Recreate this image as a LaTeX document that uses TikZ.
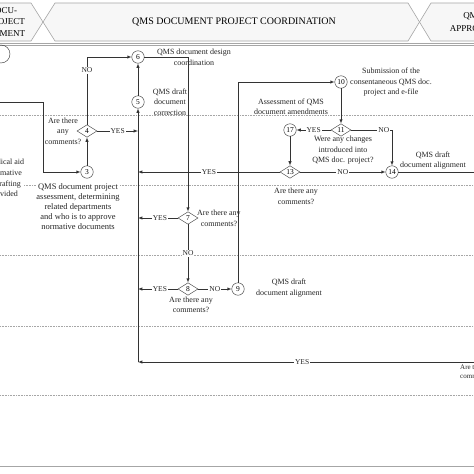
\documentclass[tikz,border=0pt]{standalone}
\usepackage{fontspec}
\setmainfont{Liberation Serif}
\usetikzlibrary{arrows, calc, shapes.geometric}

\begin{document}
\begin{tikzpicture}[x=1pt, y=-1pt, >=latex,
	stepnum/.style={circle, draw=black!80, minimum size=12.5pt, inner sep=0pt, font=\fontsize{7.5}{8}\selectfont},
	decide/.style={diamond, draw=black!80, minimum width=20pt, minimum height=12.5pt, inner sep=0pt, font=\fontsize{7.5}{8}\selectfont},
	note/.style={align=center, inner sep=0pt, text=black!85, font=\fontsize{8}{10.5}\selectfont},
	answer/.style={fill=white, inner sep=1pt, text=black!85, font=\fontsize{7.5}{8}\selectfont},
	flow/.style={draw=black!80, line width=0.5pt},
	lane/.style={draw=gray!70, densely dotted, line width=0.6pt},
	header/.style={draw=gray!70, fill=gray!6, line width=0.6pt}]
	\useasboundingbox (0,0) rectangle (474,474);
	\clip (0,0) rectangle (474,474);
	\fill [white] (0,0) rectangle (474,474);
	\draw [header] (-5,3) -- (31,3) -- (43,22) -- (31,41) -- (-5,41);
	\draw [header] (55,3) -- (408,3) -- (419.5,22) -- (408,41) -- (55,41) -- (43,22) -- cycle;
	\draw [header] (431,3) -- (480,3) -- (480,41) -- (431,41) -- (419.5,22) -- cycle;
	\path (-8,22) node [align=center, font=\fontsize{9}{11.5}\selectfont] (hA) {QMS DOCU-\\MENT PROJECT\\DEVELOPMENT};
	\path (234,22) node [font=\fontsize{10}{12}\selectfont] (hB) {QMS DOCUMENT PROJECT COORDINATION};
	\path (473,22) node [align=center, font=\fontsize{9}{13}\selectfont] (hC) {QMS\\APPROVAL};
	\draw [gray!70, line width=0.6pt] (0,43.5) -- (474,43.5);
	\draw [gray!70, line width=0.6pt] (0,45.5) -- (474,45.5);
	\draw [lane] (0,115) -- (474,115);
	\draw [lane] (0,185) -- (474,185);
	\draw [lane] (0,255) -- (474,255);
	\draw [lane] (0,326) -- (474,326);
	\draw [lane] (0,395) -- (474,395);
	\draw [gray!70, line width=0.7pt] (0,466) -- (474,466);
	\coordinate (p3) at (87,172);
	\coordinate (p4) at (87,131);
	\coordinate (p5) at (138,102);
	\coordinate (p6) at (138,57);
	\coordinate (p7) at (188,218);
	\coordinate (p8) at (188,289);
	\coordinate (p9) at (238,289);
	\coordinate (p10) at (341,82);
	\coordinate (p11) at (341,130);
	\coordinate (p17) at (290,130);
	\coordinate (p13) at (290,172);
	\coordinate (p14) at (392,172);
	\path (1,54) node [circle, draw=black!80, minimum size=18pt] (st) {};
	\path (p3) node [stepnum] (n3) {3};
	\path (p4) node [decide] (n4) {4};
	\path (p5) node [stepnum] (n5) {5};
	\path (p6) node [stepnum] (n6) {6};
	\path (p7) node [decide] (n7) {7};
	\path (p8) node [decide] (n8) {8};
	\path (p9) node [stepnum] (n9) {9};
	\path (p10) node [stepnum] (n10) {10};
	\path (p11) node [decide] (n11) {11};
	\path (p17) node [stepnum] (n17) {17};
	\path (p13) node [decide] (n13) {13};
	\path (p14) node [stepnum] (n14) {14};
	\coordinate (in0) at (-5,102);
	\coordinate (b0) at (43,102);
	\coordinate (b1) at (43,172);
	\coordinate (b4) at (87,57);
	\coordinate (b6) at (188,57);
	\coordinate (b9) at (238,82);
	\coordinate (b11) at (392,130);
	\coordinate (j4) at (138,131);
	\coordinate (j13) at (138,172);
	\coordinate (j7) at (138,218);
	\coordinate (j8) at (138,289);
	\coordinate (jb) at (138,362);
	\coordinate (rb) at (480,362);
	\coordinate (r14) at (480,172);
	\draw [flow, ->] (in0) -- (b0) -- (b1) -- (n3);
	\draw [flow, ->] (n3) -- (n4);
	\draw [flow, ->] (n4.north) -- node [answer, pos=0.8] {NO} (b4) -- (n6);
	\draw [flow, ->] (n4) -- node [answer] {YES} (j4);
	\draw [flow, ->] (jb) -- (n5);
	\draw [flow, ->] (n5) -- (n6);
	\draw [flow, ->] (n6) -- (b6) -- (n7);
	\draw [flow, ->] (n7) -- node [answer, pos=0.45] {YES} (j7);
	\draw [flow, ->] (n7) -- node [answer] {NO} (n8);
	\draw [flow, ->] (n8) -- node [answer, pos=0.45] {YES} (j8);
	\draw [flow, ->] (n8) -- node [answer] {NO} (n9);
	\draw [flow, ->] (n9) -- (b9) -- (n10);
	\draw [flow, ->] (n10) -- (n11);
	\draw [flow, ->] (n11) -- node [answer] {YES} (n17);
	\draw [flow, ->] (n11) -- node [answer, pos=0.8] {NO} (b11) -- (n14);
	\draw [flow, ->] (n17) -- (n13);
	\draw [flow, ->] (n13) -- node [answer] {NO} (n14);
	\draw [flow, ->] (n13) -- node [answer] {YES} (j13);
	\draw [flow] (n14) -- (r14);
	\draw [flow, ->] (rb) -- node [answer, pos=0.52] {YES} (jb);
	\path (0,179) node [note, fill=white, font=\fontsize{8}{10.7}\selectfont] (lt) {Methodical aid\\for normative\\doc. drafting\\is provided};
	\path (78,207) node [note, fill=white, font=\fontsize{8.5}{10}\selectfont] (t3) {QMS document project\\assessment, determining\\related departments\\and who is to approve\\normative documents};
	\path (63,131) node [note] (t4) {Are there\\any\\comments?};
	\path (170,102) node [note] (t5) {QMS draft\\document\\correction};
	\path (194,57.5) node [note] (t6) {QMS document design\\coordination};
	\path (197,218.5) node [note, anchor=west] (t7) {Are there any\\comments?};
	\path (191,305) node [note] (t8) {Are there any\\comments?};
	\path (289,288) node [note] (t9) {QMS draft\\document alignment};
	\path (391,82.5) node [note] (t10) {Submission of the\\consentaneous QMS doc.\\project and e-file};
	\path (291,106.5) node [note] (tam) {Assessment of QMS\\document amendments};
	\path (343,150.5) node [note] (t11) {Were any changes\\introduced into\\QMS doc. project?};
	\path (296,196.5) node [note] (t13) {Are there any\\comments?};
	\path (433,160.5) node [note] (t14) {QMS draft\\document alignment};
	\path (460,372) node [note, anchor=west, align=left, font=\fontsize{7}{9}\selectfont] (tr) {Are there any\\comments?};
\end{tikzpicture}
\end{document}
